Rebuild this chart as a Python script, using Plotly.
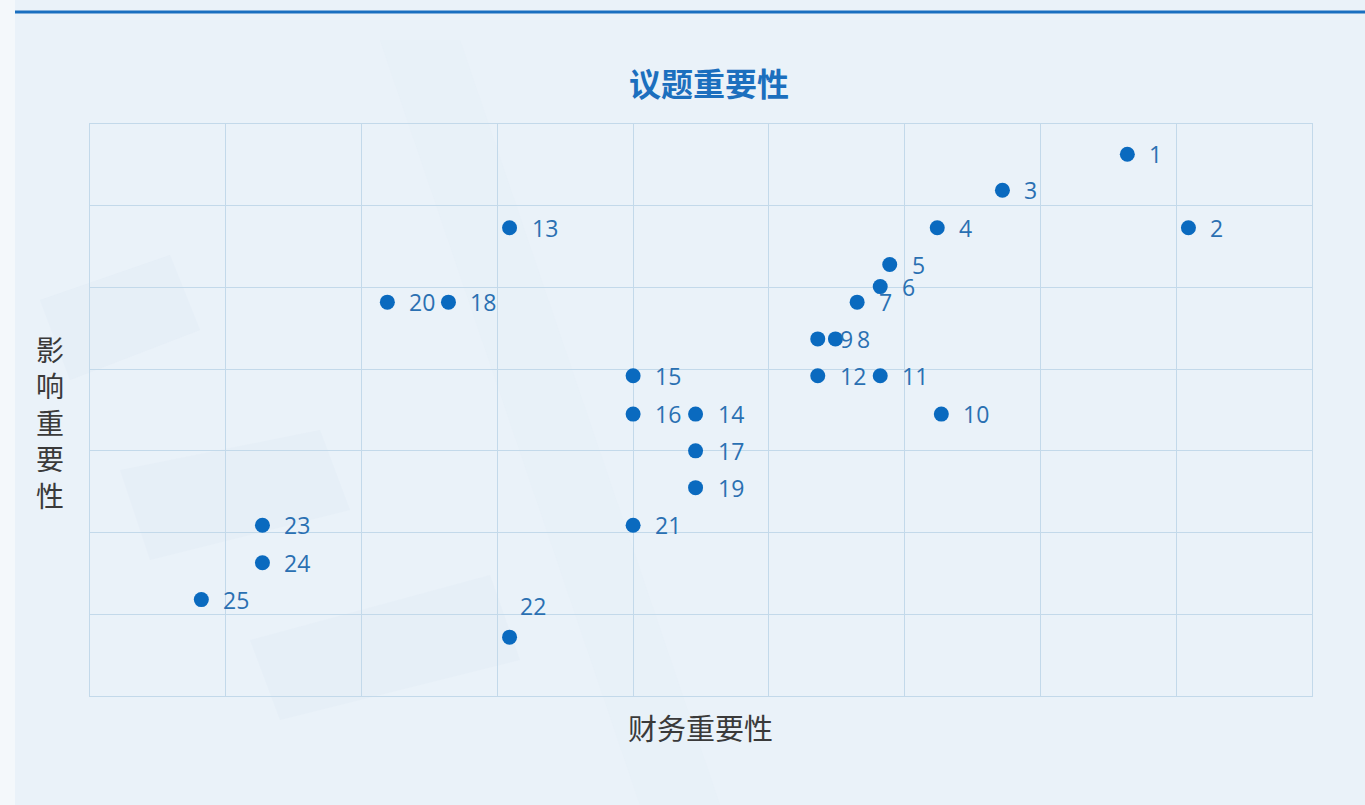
import plotly.graph_objects as go

# ---- data ----
issue_ids = ["1", "2", "3", "4", "5", "6", "7", "8", "9", "10", "11", "12", "13",
             "14", "15", "16", "17", "18", "19", "20", "21", "22", "23", "24", "25"]
financial = [7.64, 8.09, 6.72, 6.24, 5.89, 5.82, 5.65, 5.49, 5.36, 6.27, 5.82, 5.36, 3.09,
             4.46, 4.00, 4.00, 4.46, 2.64, 4.46, 2.19, 4.00, 3.09, 1.27, 1.27, 0.82]
impact = [6.63, 5.73, 6.19, 5.73, 5.28, 5.01, 4.82, 4.37, 4.37, 3.45, 3.92, 3.92, 5.73,
          3.45, 3.92, 3.45, 3.00, 4.82, 2.55, 4.82, 2.09, 0.72, 2.09, 1.63, 1.18]
label_above = ["22"]

title_text = "议题重要性"
x_title = "财务重要性"
y_title = "影响重要性"

W, H = 1365, 805
L, R, T, B = 90, 53, 124, 109

dot_color = "#0a6abf"
label_color = "#2a70b2"
grid_color = "#c3d9ea"
bg = "#eaf2f9"


def px_x(p):
    return (p - L) / (W - L - R)


def px_y(p):
    return (H - B - p) / (H - T - B)


fig = go.Figure()
fig.add_trace(go.Scatter(
    x=financial, y=impact, mode="markers",
    marker=dict(size=15, color=dot_color),
    hoverinfo="skip", showlegend=False,
))

for lab, xv, yv in zip(issue_ids, financial, impact):
    if lab in label_above:
        fig.add_annotation(x=xv, y=yv, text=lab, showarrow=False, xref="x", yref="y",
                           xanchor="left", yanchor="middle", xshift=8, yshift=31,
                           font=dict(size=23, color=label_color, family="Open Sans"))
    else:
        fig.add_annotation(x=xv, y=yv, text=lab, showarrow=False, xref="x", yref="y",
                           xanchor="left", yanchor="middle", xshift=20, yshift=0,
                           font=dict(size=23, color=label_color, family="Open Sans"))

# title and axis titles
fig.add_annotation(x=px_x(709), y=px_y(82), xref="paper", yref="paper", text="<b>" + title_text + "</b>",
                   showarrow=False, xanchor="center", yanchor="middle",
                   font=dict(size=32, color="#1c6fbe", family="Noto Sans CJK SC"))
fig.add_annotation(x=px_x(700), y=px_y(727), xref="paper", yref="paper", text=x_title,
                   showarrow=False, xanchor="center", yanchor="middle",
                   font=dict(size=29, color="#3a3a3a", family="Noto Sans CJK SC"))
fig.add_annotation(x=px_x(50), y=px_y(422), xref="paper", yref="paper",
                   text="<br>".join(list(y_title)),
                   showarrow=False, xanchor="center", yanchor="middle",
                   font=dict(size=28, color="#3a3a3a", family="Noto Sans CJK SC"))

# decorative background
shapes = [
    dict(type="rect", xref="paper", yref="paper", x0=px_x(0), x1=px_x(15), y0=px_y(H), y1=px_y(0),
         fillcolor="#f4f8fb", line=dict(width=0), layer="below"),
    dict(type="path", xref="paper", yref="paper",
         path=f"M {px_x(40)} {px_y(300)} L {px_x(170)} {px_y(255)} L {px_x(200)} {px_y(330)} L {px_x(70)} {px_y(380)} Z",
         fillcolor="#e2ecf5", opacity=0.5, line=dict(width=0), layer="below"),
    dict(type="path", xref="paper", yref="paper",
         path=f"M {px_x(120)} {px_y(470)} L {px_x(320)} {px_y(430)} L {px_x(350)} {px_y(510)} L {px_x(150)} {px_y(560)} Z",
         fillcolor="#e2ecf5", opacity=0.4, line=dict(width=0), layer="below"),
    dict(type="path", xref="paper", yref="paper",
         path=f"M {px_x(250)} {px_y(640)} L {px_x(490)} {px_y(575)} L {px_x(520)} {px_y(660)} L {px_x(280)} {px_y(720)} Z",
         fillcolor="#e2ecf5", opacity=0.4, line=dict(width=0), layer="below"),
    dict(type="path", xref="paper", yref="paper",
         path=f"M {px_x(380)} {px_y(40)} L {px_x(460)} {px_y(40)} L {px_x(720)} {px_y(805)} L {px_x(640)} {px_y(805)} Z",
         fillcolor="#e6f0f8", opacity=0.5, line=dict(width=0), layer="below"),
    dict(type="line", xref="paper", yref="paper", x0=px_x(15), x1=px_x(W), y0=px_y(12), y1=px_y(12),
         line=dict(color="#1a6fc0", width=3)),
]

fig.update_layout(
    width=W, height=H,
    margin=dict(l=L, r=R, t=T, b=B),
    paper_bgcolor=bg, plot_bgcolor="rgba(0,0,0,0)",
    shapes=shapes,
    xaxis=dict(range=[0, 9], dtick=1, tick0=0, showgrid=True, gridcolor=grid_color, gridwidth=1,
               zeroline=False, showticklabels=False, ticks="", showline=True, linecolor=grid_color,
               mirror=True, fixedrange=True),
    yaxis=dict(range=[0, 7], dtick=1, tick0=0, showgrid=True, gridcolor=grid_color, gridwidth=1,
               zeroline=False, showticklabels=False, ticks="", showline=True, linecolor=grid_color,
               mirror=True, fixedrange=True),
    font=dict(family="Noto Sans CJK SC"),
)

fig.write_html("out.html", config={"displayModeBar": False},
               post_script="document.body.style.margin='0px';document.body.style.overflow='hidden';")
